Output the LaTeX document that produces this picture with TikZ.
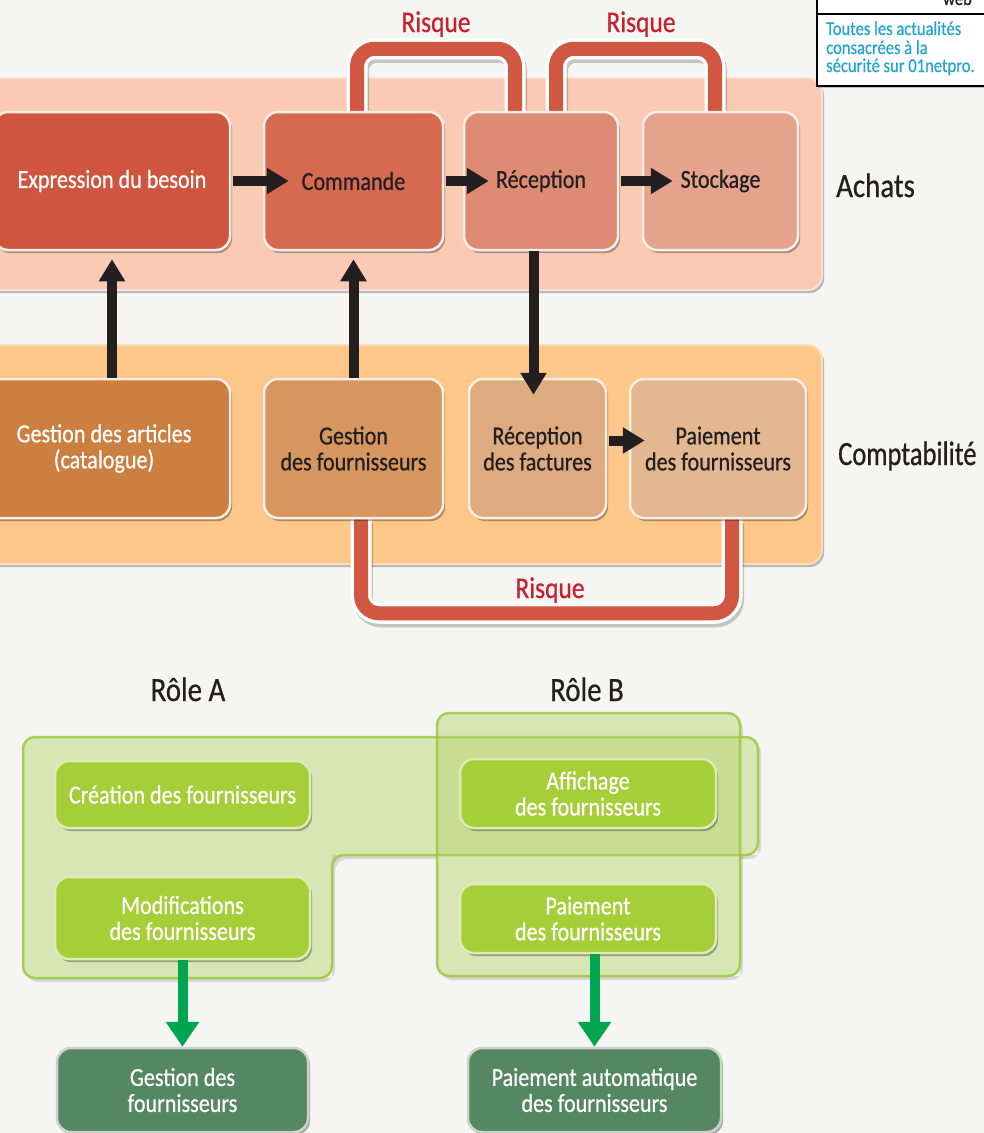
\documentclass[tikz,border=0pt]{standalone}
\usepackage{fontspec}
\setmainfont{Carlito}[FakeStretch=0.85,FakeBold=0.6]
\newfontfamily\myNarrow{Carlito}[FakeStretch=0.78,FakeBold=0.6]
\usetikzlibrary{arrows.meta,shadows,calc}
\pgfdeclarelayer{bgl}
\pgfdeclarelayer{midl}
\pgfsetlayers{bgl,midl,main}
\definecolor{bgc}{HTML}{F5F5F3}
\definecolor{achc}{HTML}{FBCAB5}
\definecolor{compc}{HTML}{FCC789}
\definecolor{c1}{HTML}{D0553F}
\definecolor{c2}{HTML}{D66A51}
\definecolor{c3}{HTML}{DE8B76}
\definecolor{c4}{HTML}{E5A38D}
\definecolor{d1}{HTML}{CB7F41}
\definecolor{d2}{HTML}{D69660}
\definecolor{d3}{HTML}{DEAB80}
\definecolor{d4}{HTML}{E3B792}
\definecolor{nbord}{HTML}{FCEDE5}
\definecolor{riskc}{HTML}{D25741}
\definecolor{risktxt}{HTML}{C8202F}
\definecolor{darkc}{HTML}{231F20}
\definecolor{gnode}{HTML}{A6CE39}
\definecolor{gbord}{HTML}{DDEBB5}
\definecolor{regfill}{HTML}{B5D36A}
\definecolor{regline}{HTML}{9BC93D}
\definecolor{dgnode}{HTML}{548762}
\definecolor{dgbord}{HTML}{C9D3C6}
\definecolor{garrow}{HTML}{00A550}
\definecolor{cyant}{HTML}{22A5D0}
\newcommand\myNodeFont{\fontsize{26}{26}\selectfont}
\newcommand\myBigFont{\fontsize{34}{34}\selectfont}
\newcommand\myRiskFont{\fontsize{30}{30}\selectfont}
\newcommand\mySmallFont{\fontsize{19.5}{19.5}\selectfont}
\begin{document}
\begin{tikzpicture}[x=1pt,y=-1pt,
  shad/.style={drop shadow={shadow xshift=2pt,shadow yshift=-3pt,opacity=.3,fill=black}},
  box/.style={draw=nbord, line width=2.5pt, rounded corners=14pt, inner sep=0pt, align=center, font=\myNodeFont, text=darkc, shad},
  gbox/.style={box, draw=gbord, fill=gnode, text=white},
  dgbox/.style={box, draw=dgbord, fill=dgnode, text=white},
  band/.style={rounded corners=14pt, drop shadow={shadow xshift=2pt,shadow yshift=-3pt,opacity=.25,fill=black}, line width=2pt},
  blk/.style={draw=darkc, line width=10pt, -{Triangle[width=25pt,length=22pt]}},
  grn/.style={draw=garrow, line width=10pt, -{Triangle[width=32pt,length=25pt]}},
  loopsh/.style={draw=black, opacity=.2, line width=20pt, rounded corners=18pt, transform canvas={shift={(2pt,-4pt)}}},
  loopw/.style={draw=white, line width=21pt, rounded corners=18pt},
  loopr/.style={draw=riskc, line width=14pt, rounded corners=18pt},
  risk/.style={text=risktxt, font=\myRiskFont, inner sep=0pt, anchor=base},
  lab/.style={text=darkc, font=\myBigFont, inner sep=0pt, anchor=base},
  region/.style={fill=regfill, fill opacity=.45, draw=regline, draw opacity=.85, line width=2.5pt, rounded corners=12pt},
  regshad/.style={fill=black, opacity=.12, rounded corners=12pt, transform canvas={shift={(3pt,-4pt)}}}
]
\useasboundingbox (0,0) rectangle (984,1133);
\begin{pgfonlayer}{bgl}
  \fill[bgc] (0,0) rectangle (984,1133);
  \path[band, fill=achc, draw=achc!60!white] (-40,78) rectangle (822,290);
  \path[band, fill=compc, draw=compc!60!white] (-40,345) rectangle (822,564);
  \path[regshad] (23,850) -- (23,737) -- (758,737) -- (758,855) -- (332,855) -- (332,978) -- (23,978) -- cycle;
  \path[regshad] (437,713) rectangle (740,976);
  \fill[bgc] (23,737) -- (758,737) -- (758,855) -- (332,855) -- (332,978) -- (23,978) -- cycle;
  \fill[bgc] (437,713) rectangle (740,976);
  \path[region] (23,850) -- (23,737) -- (758,737) -- (758,855) -- (332,855) -- (332,978) -- (23,978) -- cycle;
  \path[region] (437,713) rectangle (740,976);
\end{pgfonlayer}

% top-right box
\draw[line width=1.3pt, fill=white, drop shadow={shadow xshift=1pt,shadow yshift=-2pt,opacity=.2,fill=black}] (817,-20) rectangle (1000,86);
\draw[line width=1.3pt] (817,14) -- (1000,14);
\node[anchor=base east, inner sep=0pt, font=\mySmallFont, text=darkc] (web) at (972,5) {web};
\node[anchor=base west, inner sep=0pt, font=\mySmallFont, text=cyant] (t1) at (826,35) {Toutes les actualités};
\node[anchor=base west, inner sep=0pt, font=\mySmallFont, text=cyant] (t2) at (826,54) {consacrées à la};
\node[anchor=base west, inner sep=0pt, font=\mySmallFont, text=cyant] (t3) at (826,72) {sécurité sur 01netpro.};

% Achats row
\node[box, fill=c1, text=white, minimum width=236, minimum height=138] (exp) at (112,181) {Expression du besoin};
\node[box, fill=c2, minimum width=179, minimum height=138] (cmd) at (353.5,181) {Commande};
\node[box, fill=c3, minimum width=154, minimum height=138] (rec) at (541,181) {Réception};
\node[box, fill=c4, minimum width=155, minimum height=138] (sto) at (720.5,181) {Stockage};
\node[lab, anchor=base west] (ach) at (836,197) {Achats};

% Comptabilite row
\node[box, fill=d1, text=white, minimum width=252, minimum height=139] (art) at (104,448.5) {Gestion des articles\\(catalogue)};
\node[box, fill=d2, minimum width=179, minimum height=139] (gf) at (353.5,448.5) {Gestion\\des fournisseurs};
\node[box, fill=d3, minimum width=137, minimum height=139] (rf) at (537.5,448.5) {Réception\\des factures};
\node[box, fill=d4, minimum width=176, minimum height=139] (pay) at (718,448.5) {Paiement\\des fournisseurs};
\node[lab, anchor=base west, font=\myNarrow\myBigFont] (cpt) at (838,465) {Comptabilité};

% risk loops
\begin{pgfonlayer}{midl}
  \foreach \st in {loopsh,loopw,loopr}{
    \draw[\st] ($(cmd.north)+(3.5,0)$) -- ++(0,-62) -| ($(rec.north)+(-26,0)$);
    \draw[\st] ($(rec.north)+(15,0)$) -- ++(0,-62) -| ($(sto.north)+(-5.5,0)$);
    \draw[\st] ($(gf.south)+(7.5,0)$) -- ++(0,94) -| ($(pay.south)+(14,0)$);
  }
\end{pgfonlayer}
\node[risk] (r1) at (436,32) {Risque};
\node[risk] (r2) at (641,32) {Risque};
\node[risk] (r3) at (550,598) {Risque};

% black arrows
\draw[blk] ($(exp.east)+(2,0)$) -- ($(cmd.west)+(26,0)$);
\draw[blk] ($(cmd.east)+(2,0)$) -- ($(rec.west)+(26,0)$);
\draw[blk] ($(rec.east)+(2,0)$) -- ($(sto.west)+(31,0)$);
\draw[blk] (art.north -| exp.south) -- ($(exp.south)+(0,8)$);
\draw[blk] (gf.north) -- ($(cmd.south)+(0,8)$);
\coordinate (rfin) at ($(rf.north)+(-4,17)$);
\draw[blk] (rec.south -| rfin) -- (rfin);
\draw[blk] ($(rf.east)+(2,-8)$) -- ($(pay.west)+(16,-8)$);

% Roles
\node[lab] (ra) at (188,701) {Rôle A};
\node[lab] (rb) at (587,701) {Rôle B};
\node[gbox, minimum width=255, minimum height=67] (cre) at (182.5,794.5) {Création des fournisseurs};
\node[gbox, minimum width=255, minimum height=82] (mod) at (182.5,918) {Modifications\\des fournisseurs};
\node[gbox, minimum width=256, minimum height=69] (aff) at (588,793.5) {Affichage\\des fournisseurs};
\node[gbox, minimum width=256, minimum height=69] (pay2) at (588,918.5) {Paiement\\des fournisseurs};
\node[dgbox, minimum width=251, minimum height=84] (gfb) at (182.5,1090) {Gestion des\\fournisseurs};
\node[dgbox, minimum width=253, minimum height=84] (pab) at (594.5,1090) {Paiement automatique\\des fournisseurs};
\draw[grn] (mod.south) -- (gfb.north);
\draw[grn] (pay2.south -| pab.north) -- (pab.north);
\end{tikzpicture}
\end{document}
